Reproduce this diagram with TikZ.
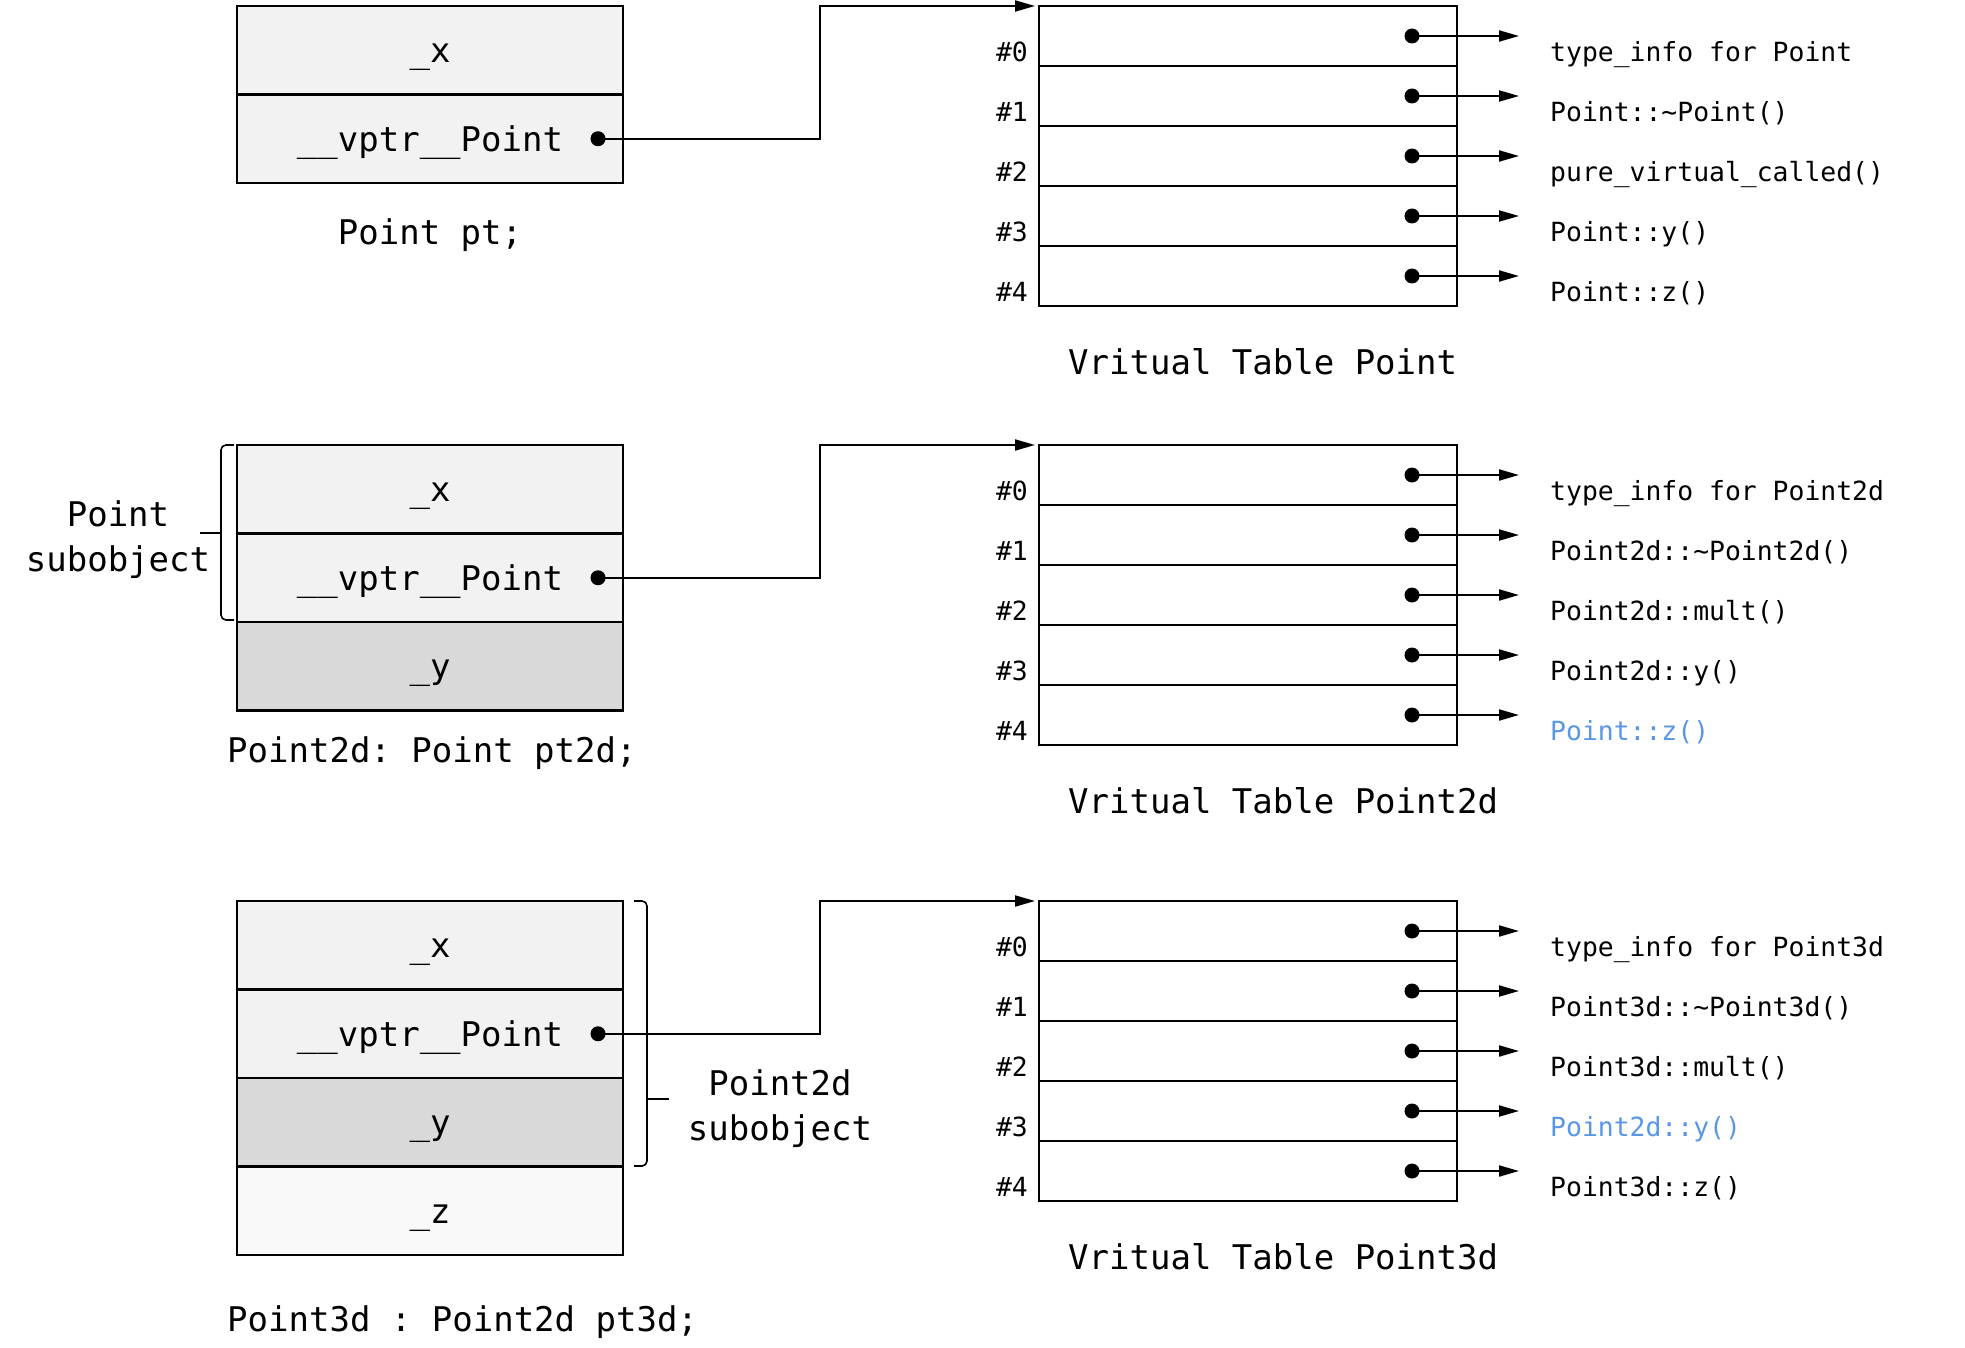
\documentclass[tikz,border=0pt]{standalone}
\usepackage{fontspec}
\setmainfont{DejaVu Sans Mono}
\usetikzlibrary{arrows.meta}
\frenchspacing
\definecolor{fieldgray}{RGB}{242,242,242}
\definecolor{derivedgray}{RGB}{217,217,217}
\definecolor{owngray}{RGB}{249,249,249}
\definecolor{inherited}{RGB}{90,150,230}
\newcommand\bigtt{\fontsize{34}{45}\selectfont}
\newcommand\smalltt{\fontsize{26.4}{32}\selectfont}
\tikzset{
  field/.style={draw, line width=2.2pt, fill=fieldgray, minimum width=386pt, minimum height=88.5pt, inner sep=0pt, outer sep=0pt, font=\bigtt, text height=30.6pt, text depth=5.8pt},
  slot/.style={draw, line width=2pt, minimum width=418pt, minimum height=60pt, inner sep=0pt, outer sep=0pt},
  big/.style={inner sep=0pt, font=\bigtt, text height=30.6pt, text depth=5.8pt},
  small/.style={inner sep=0pt, font=\smalltt, text height=23.8pt, text depth=4.5pt},
  dot/.style={circle, fill, inner sep=0pt, minimum size=15pt},
  ptr/.style={line width=2pt, -{Triangle[length=20pt,width=11pt]}},
  brace/.style={line width=1.6pt, rounded corners=5pt}
}
\begin{document}
\begin{tikzpicture}[x=1pt,y=-1pt]
\useasboundingbox (0,0) rectangle (1965,1348);
% Point pt;
\node[field] (obj1-x) at (430,50.25){\_x};
\node[field] (obj1-vptr) at (430,138.75){\_\_vptr\_\_Point};
\node[dot] (obj1-dot) at (598,138.75){};
\node[big] (obj1-cap) at (430,232){Point pt;};
% Point2d: Point pt2d;
\node[field] (obj2-x) at (430,489.25){\_x};
\node[field] (obj2-vptr) at (430,577.75){\_\_vptr\_\_Point};
\node[field, fill=derivedgray] (obj2-y) at (430,666.25){\_y};
\node[dot] (obj2-dot) at (598,577.75){};
\node[big, anchor=west] (obj2-cap) at (227,750){Point2d: Point pt2d;};
\draw[brace] (234,445) -- (221,445) -- (221,620) -- (234,620);
\draw[line width=1.6pt] (221,533) -- (200,533);
\node[font=\bigtt, align=center, inner sep=0pt] (obj2-sub) at (118,540){Point\\subobject};
% Point3d : Point2d pt3d;
\node[field] (obj3-x) at (430,945.25){\_x};
\node[field] (obj3-vptr) at (430,1033.75){\_\_vptr\_\_Point};
\node[field, fill=derivedgray] (obj3-y) at (430,1122.25){\_y};
\node[field, fill=owngray] (obj3-z) at (430,1210.75){\_z};
\node[dot] (obj3-dot) at (598,1033.75){};
\node[big, anchor=west] (obj3-cap) at (227,1319){Point3d : Point2d pt3d;};
\draw[brace] (634,901) -- (647,901) -- (647,1166) -- (634,1166);
\draw[line width=1.6pt] (647,1099) -- (669,1099);
\node[font=\bigtt, align=center, inner sep=0pt] (obj3-sub) at (780,1109){Point2d\\subobject};

% Vritual Table Point
\node[slot] (vt1-0) at (1248,36){};
\node[slot] (vt1-1) at (1248,96){};
\node[slot] (vt1-2) at (1248,156){};
\node[slot] (vt1-3) at (1248,216){};
\node[slot] (vt1-4) at (1248,276){};
\node[small, anchor=east] (vt1-n0) at (1028,52){\#0};
\node[small, anchor=east] (vt1-n1) at (1028,112){\#1};
\node[small, anchor=east] (vt1-n2) at (1028,172){\#2};
\node[small, anchor=east] (vt1-n3) at (1028,232){\#3};
\node[small, anchor=east] (vt1-n4) at (1028,292){\#4};
\node[dot] (vt1-d0) at (1412,36){};
\node[dot] (vt1-d1) at (1412,96){};
\node[dot] (vt1-d2) at (1412,156){};
\node[dot] (vt1-d3) at (1412,216){};
\node[dot] (vt1-d4) at (1412,276){};
\coordinate (vt1-e0) at (1519,36);
\coordinate (vt1-e1) at (1519,96);
\coordinate (vt1-e2) at (1519,156);
\coordinate (vt1-e3) at (1519,216);
\coordinate (vt1-e4) at (1519,276);
\draw[ptr] (vt1-d0.center) -- (vt1-e0);
\draw[ptr] (vt1-d1.center) -- (vt1-e1);
\draw[ptr] (vt1-d2.center) -- (vt1-e2);
\draw[ptr] (vt1-d3.center) -- (vt1-e3);
\draw[ptr] (vt1-d4.center) -- (vt1-e4);
\node[small, anchor=west] (vt1-f0) at (1550,52){type\_info for Point};
\node[small, anchor=west] (vt1-f1) at (1550,112){Point::\textasciitilde Point()};
\node[small, anchor=west] (vt1-f2) at (1550,172){pure\_virtual\_called()};
\node[small, anchor=west] (vt1-f3) at (1550,232){Point::y()};
\node[small, anchor=west] (vt1-f4) at (1550,292){Point::z()};
\node[big, anchor=west] (vt1-title) at (1068,362){Vritual Table Point};
\draw[ptr, shorten >=4pt] (obj1-dot.center) -| (820,6) -- (vt1-0.north west);

% Vritual Table Point2d
\node[slot] (vt2-0) at (1248,475){};
\node[slot] (vt2-1) at (1248,535){};
\node[slot] (vt2-2) at (1248,595){};
\node[slot] (vt2-3) at (1248,655){};
\node[slot] (vt2-4) at (1248,715){};
\node[small, anchor=east] (vt2-n0) at (1028,491){\#0};
\node[small, anchor=east] (vt2-n1) at (1028,551){\#1};
\node[small, anchor=east] (vt2-n2) at (1028,611){\#2};
\node[small, anchor=east] (vt2-n3) at (1028,671){\#3};
\node[small, anchor=east] (vt2-n4) at (1028,731){\#4};
\node[dot] (vt2-d0) at (1412,475){};
\node[dot] (vt2-d1) at (1412,535){};
\node[dot] (vt2-d2) at (1412,595){};
\node[dot] (vt2-d3) at (1412,655){};
\node[dot] (vt2-d4) at (1412,715){};
\coordinate (vt2-e0) at (1519,475);
\coordinate (vt2-e1) at (1519,535);
\coordinate (vt2-e2) at (1519,595);
\coordinate (vt2-e3) at (1519,655);
\coordinate (vt2-e4) at (1519,715);
\draw[ptr] (vt2-d0.center) -- (vt2-e0);
\draw[ptr] (vt2-d1.center) -- (vt2-e1);
\draw[ptr] (vt2-d2.center) -- (vt2-e2);
\draw[ptr] (vt2-d3.center) -- (vt2-e3);
\draw[ptr] (vt2-d4.center) -- (vt2-e4);
\node[small, anchor=west] (vt2-f0) at (1550,491){type\_info for Point2d};
\node[small, anchor=west] (vt2-f1) at (1550,551){Point2d::\textasciitilde Point2d()};
\node[small, anchor=west] (vt2-f2) at (1550,611){Point2d::mult()};
\node[small, anchor=west] (vt2-f3) at (1550,671){Point2d::y()};
\node[small, anchor=west, text=inherited] (vt2-f4) at (1550,731){Point::z()};
\node[big, anchor=west] (vt2-title) at (1068,801){Vritual Table Point2d};
\draw[ptr, shorten >=4pt] (obj2-dot.center) -| (820,445) -- (vt2-0.north west);

% Vritual Table Point3d
\node[slot] (vt3-0) at (1248,931){};
\node[slot] (vt3-1) at (1248,991){};
\node[slot] (vt3-2) at (1248,1051){};
\node[slot] (vt3-3) at (1248,1111){};
\node[slot] (vt3-4) at (1248,1171){};
\node[small, anchor=east] (vt3-n0) at (1028,947){\#0};
\node[small, anchor=east] (vt3-n1) at (1028,1007){\#1};
\node[small, anchor=east] (vt3-n2) at (1028,1067){\#2};
\node[small, anchor=east] (vt3-n3) at (1028,1127){\#3};
\node[small, anchor=east] (vt3-n4) at (1028,1187){\#4};
\node[dot] (vt3-d0) at (1412,931){};
\node[dot] (vt3-d1) at (1412,991){};
\node[dot] (vt3-d2) at (1412,1051){};
\node[dot] (vt3-d3) at (1412,1111){};
\node[dot] (vt3-d4) at (1412,1171){};
\coordinate (vt3-e0) at (1519,931);
\coordinate (vt3-e1) at (1519,991);
\coordinate (vt3-e2) at (1519,1051);
\coordinate (vt3-e3) at (1519,1111);
\coordinate (vt3-e4) at (1519,1171);
\draw[ptr] (vt3-d0.center) -- (vt3-e0);
\draw[ptr] (vt3-d1.center) -- (vt3-e1);
\draw[ptr] (vt3-d2.center) -- (vt3-e2);
\draw[ptr] (vt3-d3.center) -- (vt3-e3);
\draw[ptr] (vt3-d4.center) -- (vt3-e4);
\node[small, anchor=west] (vt3-f0) at (1550,947){type\_info for Point3d};
\node[small, anchor=west] (vt3-f1) at (1550,1007){Point3d::\textasciitilde Point3d()};
\node[small, anchor=west] (vt3-f2) at (1550,1067){Point3d::mult()};
\node[small, anchor=west, text=inherited] (vt3-f3) at (1550,1127){Point2d::y()};
\node[small, anchor=west] (vt3-f4) at (1550,1187){Point3d::z()};
\node[big, anchor=west] (vt3-title) at (1068,1257){Vritual Table Point3d};
\draw[ptr, shorten >=4pt] (obj3-dot.center) -| (820,901) -- (vt3-0.north west);
\end{tikzpicture}
\end{document}
